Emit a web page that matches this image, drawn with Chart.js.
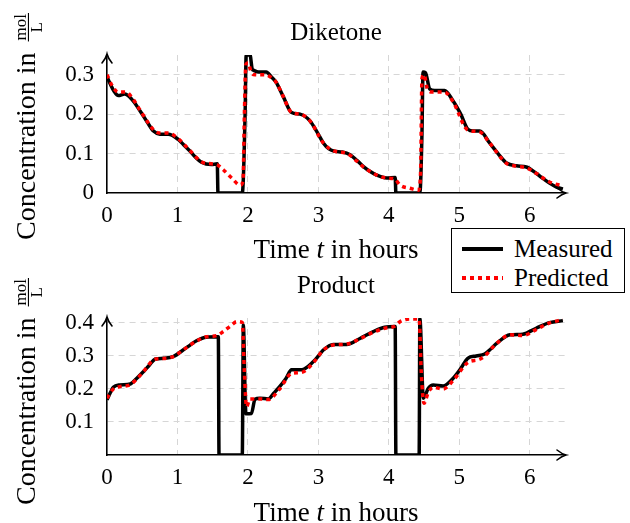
<!DOCTYPE html>
<html>
<head>
<meta charset="utf-8">
<script src="https://cdn.jsdelivr.net/npm/chart.js@4.4.1/dist/chart.umd.min.js"></script>
<style>
  body { margin: 0; background: #fff; }
  #wrap { position: relative; width: 630px; height: 523px; }
  .panel { position: absolute; left: 0; width: 630px; }
  #legend {
    position: absolute; left: 451px; top: 228px; width: 172px; height: 63px;
    border: 1.5px solid #000; background: #fff;
    font: 25px "Liberation Serif", serif; color: #000;
  }
  #legend .row { position: absolute; left: 0; height: 28px; line-height: 28px; white-space: nowrap; }
  #legend .sample { position: absolute; left: 10px; top: 12px; width: 41px; height: 3.5px; }
  #legend .label { position: absolute; left: 62px; top: 0; }
</style>
</head>
<body>
<div id="wrap">
  <div class="panel" style="top:0;height:262px"><canvas id="dike" width="630" height="262"></canvas></div>
  <div class="panel" style="top:262px;height:261px"><canvas id="prod" width="630" height="261"></canvas></div>
  <div id="legend">
    <div class="row" style="top:6px">
      <div class="sample" style="background:#000"></div>
      <span class="label">Measured</span>
    </div>
    <div class="row" style="top:35px">
      <div class="sample" style="background:repeating-linear-gradient(to right,#f00 0 4px,transparent 4px 8px)"></div>
      <span class="label">Predicted</span>
    </div>
  </div>
</div>
<script>
const SERIF = '"Liberation Serif", serif';

const xTicks = [0, 1, 2, 3, 4, 5, 6];
const dikeYTicks = [0, 0.1, 0.2, 0.3];
const prodYTicks = [0.1, 0.2, 0.3, 0.4];

// Diketone, measured
const dikeMeasT = [0, 0.05, 0.1, 0.16, 0.25, 0.35, 0.47, 0.57, 0.66, 0.75, 0.87, 1.01, 1.1, 1.18, 1.26, 1.34, 1.48, 1.565,
  1.575, 1.92, 1.96, 1.975, 2.03, 2.06, 2.085, 2.15, 2.26, 2.33, 2.4, 2.5, 2.62, 2.74, 2.88, 2.98, 3.07, 3.15, 3.23, 3.34,
  3.45, 3.55, 3.64, 3.73, 3.82, 3.97, 4.09, 4.1, 4.44, 4.47, 4.485, 4.52, 4.58, 4.65, 4.79, 4.91, 5.02, 5.12, 5.2, 5.29,
  5.43, 5.55, 5.67, 5.81, 5.95, 6.09, 6.2, 6.28, 6.38, 6.47];
const dikeMeasC = [0.295, 0.275, 0.258, 0.247, 0.251, 0.238, 0.208, 0.18, 0.157, 0.149, 0.149, 0.136, 0.12, 0.106, 0.09, 0.078, 0.072, 0.074,
  0, 0, 0.2, 0.35, 0.35, 0.315, 0.311, 0.307, 0.307, 0.295, 0.281, 0.245, 0.204, 0.2, 0.183, 0.155, 0.127, 0.112, 0.106, 0.104,
  0.097, 0.082, 0.067, 0.055, 0.046, 0.038, 0.039, 0, 0, 0.15, 0.307, 0.305, 0.264, 0.26, 0.26, 0.234, 0.2, 0.162, 0.157, 0.157,
  0.127, 0.1, 0.076, 0.069, 0.066, 0.05, 0.035, 0.025, 0.015, 0.01];

// Diketone, predicted
const dikePredT = [0, 0.08, 0.16, 0.27, 0.35, 0.47, 0.57, 0.66, 0.75, 0.87, 1.01, 1.18, 1.34, 1.48, 1.56, 1.65, 1.77, 1.89,
  1.93, 1.95, 1.97, 2.0, 2.05, 2.1, 2.25, 2.33, 2.4, 2.5, 2.62, 2.74, 2.88, 3.07, 3.23, 3.4, 3.55, 3.64, 3.82, 3.97, 4.08,
  4.16, 4.3, 4.42, 4.45, 4.47, 4.5, 4.55, 4.62, 4.79, 4.91, 5.12, 5.29, 5.43, 5.67, 5.81, 5.95, 6.09, 6.28, 6.47];
const dikePredC = [0.3, 0.27, 0.256, 0.256, 0.243, 0.21, 0.182, 0.16, 0.152, 0.152, 0.138, 0.107, 0.079, 0.074, 0.072, 0.059, 0.038, 0.02,
  0.03, 0.2, 0.325, 0.33, 0.305, 0.3, 0.3, 0.293, 0.281, 0.245, 0.204, 0.2, 0.183, 0.127, 0.106, 0.101, 0.08, 0.066, 0.046, 0.038, 0.036,
  0.02, 0.012, 0.007, 0.05, 0.29, 0.3, 0.262, 0.256, 0.256, 0.232, 0.16, 0.155, 0.127, 0.075, 0.068, 0.064, 0.05, 0.028, 0.018];

// Product, measured
const prodMeasT = [0, 0.05, 0.09, 0.18, 0.33, 0.42, 0.515, 0.6, 0.68, 0.8, 0.94, 1.08, 1.18, 1.27, 1.41, 1.58,
  1.59, 1.92, 1.935, 1.97, 2.05, 2.1, 2.17, 2.29, 2.37, 2.45, 2.54, 2.62, 2.76, 2.93, 3.0, 3.07, 3.21, 3.4, 3.59, 3.78, 3.94, 4.09,
  4.1, 4.43, 4.44, 4.49, 4.56, 4.63, 4.77, 4.91, 5.02, 5.12, 5.24, 5.36, 5.45, 5.53, 5.72, 5.9, 6.09, 6.28, 6.47];
const prodMeasC = [0.167, 0.19, 0.205, 0.212, 0.215, 0.232, 0.252, 0.272, 0.29, 0.293, 0.298, 0.318, 0.333, 0.346, 0.357, 0.358,
  0, 0, 0.394, 0.125, 0.126, 0.169, 0.172, 0.17, 0.188, 0.207, 0.232, 0.258, 0.258, 0.283, 0.3, 0.318, 0.335, 0.335, 0.353, 0.374, 0.387, 0.389,
  0, 0, 0.414, 0.172, 0.202, 0.212, 0.209, 0.232, 0.262, 0.293, 0.3, 0.306, 0.322, 0.338, 0.364, 0.366, 0.384, 0.401, 0.407];

// Product, predicted
const prodPredT = [0, 0.09, 0.18, 0.33, 0.42, 0.515, 0.68, 0.8, 0.94, 1.08, 1.27, 1.41, 1.56, 1.65, 1.77, 1.84, 1.92,
  1.95, 1.98, 2.03, 2.17, 2.29, 2.45, 2.62, 2.76, 2.93, 3.07, 3.21, 3.4, 3.59, 3.78, 3.94, 4.08, 4.16, 4.3, 4.43,
  4.46, 4.5, 4.56, 4.63, 4.77, 4.91, 5.12, 5.29, 5.36, 5.53, 5.72, 5.9, 6.09, 6.28, 6.47];
const prodPredC = [0.172, 0.2, 0.207, 0.213, 0.23, 0.252, 0.29, 0.292, 0.298, 0.318, 0.345, 0.358, 0.362, 0.374, 0.394, 0.404, 0.402,
  0.25, 0.146, 0.17, 0.17, 0.168, 0.2, 0.247, 0.25, 0.28, 0.318, 0.333, 0.336, 0.352, 0.372, 0.384, 0.39, 0.404, 0.412, 0.412,
  0.25, 0.157, 0.19, 0.205, 0.2, 0.225, 0.28, 0.29, 0.3, 0.338, 0.364, 0.362, 0.38, 0.4, 0.41];

const toPoints = (t, c) => t.map((x, i) => ({ x, y: c[i] }));

function drawXTitle(ctx, cx, base) {
  const parts = [['Time ', ''], ['t', 'italic '], [' in hours', '']];
  let total = 0;
  parts.forEach(([s, st]) => { ctx.font = `${st}27px ${SERIF}`; total += ctx.measureText(s).width; });
  let x = cx - total / 2;
  ctx.textAlign = 'left';
  parts.forEach(([s, st]) => {
    ctx.font = `${st}27px ${SERIF}`;
    ctx.fillText(s, x, base);
    x += ctx.measureText(s).width;
  });
}

// rotated "Concentration in mol/L", from screen y `bottom` up to `top`
function drawYTitle(ctx, baseX, bottom, top) {
  const main = 'Concentration in';
  ctx.font = `27px ${SERIF}`;
  const wMain = ctx.measureText(main).width;
  ctx.font = `17px ${SERIF}`;
  const wFrac = ctx.measureText('mol').width + 2;
  const gap = 11;
  const stretch = (bottom - top - wFrac - gap) / wMain;
  ctx.save();
  ctx.translate(baseX, bottom);
  ctx.rotate(-Math.PI / 2);
  ctx.textAlign = 'left';
  ctx.save();
  ctx.scale(stretch, 1);
  ctx.font = `27px ${SERIF}`;
  ctx.fillText(main, 0, 0);
  ctx.restore();
  const fx = wMain * stretch + gap;
  ctx.fillRect(fx, -6.6, wFrac, 1.1);
  ctx.font = `17px ${SERIF}`;
  ctx.textAlign = 'center';
  ctx.fillText('mol', fx + wFrac / 2, -8.8);
  ctx.fillText('L', fx + wFrac / 2, 7.2);
  ctx.restore();
}

const decor = {
  id: 'decor',
  afterDraw(chart, args, o) {
    const { ctx, chartArea: a } = chart;
    ctx.save();
    ctx.fillStyle = '#000';
    ctx.textBaseline = 'alphabetic';
    ctx.textAlign = 'center';
    ctx.font = `25px ${SERIF}`;
    ctx.fillText(o.title, (a.left + a.right) / 2, o.titleBase);
    drawXTitle(ctx, (a.left + a.right) / 2, o.xTitleBase);
    drawYTitle(ctx, 34.5, o.yBottom, o.yTop);
    // axis arrow heads
    ctx.strokeStyle = '#000';
    ctx.lineWidth = 1.6;
    ctx.lineCap = 'round';
    ctx.beginPath();
    ctx.moveTo(a.left - 5, a.top + 8);
    ctx.quadraticCurveTo(a.left - 1, a.top + 3, a.left, a.top - 1);
    ctx.quadraticCurveTo(a.left + 1, a.top + 3, a.left + 5, a.top + 8);
    ctx.moveTo(a.right - 8, a.bottom - 5);
    ctx.quadraticCurveTo(a.right - 3, a.bottom - 1, a.right + 1, a.bottom);
    ctx.quadraticCurveTo(a.right - 3, a.bottom + 1, a.right - 8, a.bottom + 5);
    ctx.stroke();
    ctx.restore();
  }
};

function makeChart(id, meas, pred, yMax, yTicks, deco, padTop, xHeight) {
  const gridColor = (ctx) => (ctx.tick && ctx.tick.value === 0 ? 'rgba(0,0,0,0)' : '#d6d6d6');
  return new Chart(document.getElementById(id), {
    type: 'line',
    data: {
      datasets: [
        {
          label: 'Measured', data: meas, borderColor: '#000', borderWidth: 3.5,
          pointRadius: 0, cubicInterpolationMode: 'monotone', borderJoinStyle: 'round', order: 2,
        },
        {
          label: 'Predicted', data: pred, borderColor: '#ff0000', borderWidth: 3.5,
          borderDash: [4, 4], pointRadius: 0, cubicInterpolationMode: 'monotone', order: 1,
        },
      ],
    },
    options: {
      responsive: false,
      animation: false,
      devicePixelRatio: 1,
      layout: { padding: { left: 0, right: 65, top: padTop, bottom: 0 } },
      plugins: { legend: { display: false }, tooltip: { enabled: false }, decor: deco },
      scales: {
        x: {
          type: 'linear', min: 0, max: 6.5,
          afterBuildTicks: (s) => { s.ticks = xTicks.map((v) => ({ value: v })); },
          afterFit: (s) => { s.height = xHeight; },
          ticks: { color: '#000', font: { family: SERIF, size: 23 }, padding: 9, maxRotation: 0, callback: (v) => String(v) },
          grid: { color: gridColor, drawTicks: false, lineWidth: 1 },
          border: { display: true, color: '#000', width: 1.6, dash: [6, 5] },
        },
        y: {
          min: 0, max: yMax,
          afterBuildTicks: (s) => { s.ticks = yTicks.map((v) => ({ value: v })); },
          afterFit: (s) => { s.width = 107; },
          ticks: { color: '#000', font: { family: SERIF, size: 23 }, padding: 13, callback: (v) => (v === 0 ? '0' : v.toFixed(1)) },
          grid: { color: gridColor, drawTicks: false, lineWidth: 1 },
          border: { display: true, color: '#000', width: 1.6, dash: [6, 5] },
        },
      },
    },
    plugins: [decor],
  });
}

makeChart('dike', toPoints(dikeMeasT, dikeMeasC), toPoints(dikePredT, dikePredC), 0.35, dikeYTicks,
  { title: 'Diketone', titleBase: 40, xTitleBase: 258, yBottom: 240, yTop: 13 }, 55, 69);
makeChart('prod', toPoints(prodMeasT, prodMeasC), toPoints(prodPredT, prodPredC), 0.415, prodYTicks,
  { title: 'Product', titleBase: 31, xTitleBase: 259, yBottom: 243, yTop: 16 }, 56, 68);
</script>
</body>
</html>
